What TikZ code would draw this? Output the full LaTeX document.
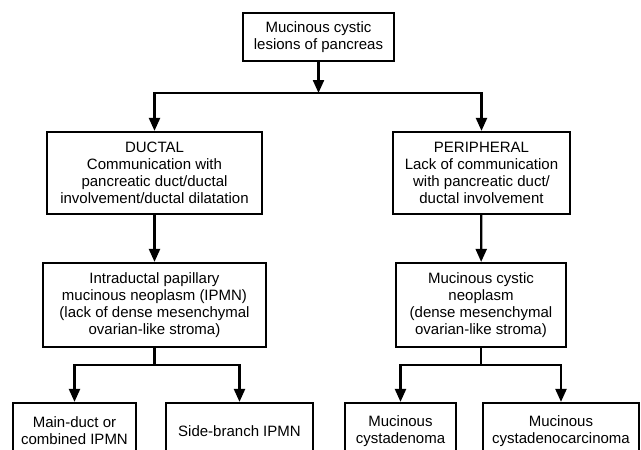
\documentclass[tikz,border=0pt]{standalone}
\usepackage{fontspec}
\setmainfont{Liberation Sans}
\usepackage{tikz}
\usetikzlibrary{positioning, arrows.meta, calc}
\tikzset{
  caja/.style={rectangle, draw=black, line width=2.2pt, align=center, text centered, inner sep=2pt, font=\fontsize{15}{17}\selectfont},
  flecha/.style={line width=2.2pt, -{Triangle[length=13pt, width=11pt]}},
  linea/.style={line width=2.2pt}
}

\begin{document}
\begin{tikzpicture}[x=1pt, y=-1pt]

    % Marco de la imagen (las cajas inferiores quedan cortadas)
    \useasboundingbox (0,0) rectangle (641,450);
    \clip (0,0) rectangle (641,450);

    % 1. Caja superior
    \node[caja, minimum width=151pt, minimum height=48pt] (lesiones) at (318.5, 37) {Mucinous cystic\\lesions of pancreas};

    % 2. Nivel ductal / periferico
    \node[caja, minimum width=215pt, minimum height=82pt] (ductal) at (154.5, 173) {DUCTAL\\Communication with\\pancreatic duct/ductal\\involvement/ductal dilatation};
    \node[caja, minimum width=177pt, minimum height=82pt] (periferico) at (481.5, 173) {PERIPHERAL\\Lack of communication\\with pancreatic duct/\\ductal involvement};

    % 3. Neoplasias
    \node[caja, minimum width=223pt, minimum height=84pt] (ipmn) at (154.5, 305) {Intraductal papillary\\mucinous neoplasm (IPMN)\\(lack of dense mesenchymal\\ovarian-like stroma)};
    \node[caja, minimum width=170pt, minimum height=84pt] (mcn) at (481, 305) {Mucinous cystic\\neoplasm\\(dense mesenchymal\\ovarian-like stroma)};

    % 4. Subtipos (fila inferior)
    \node[caja, minimum width=123pt, minimum height=56pt] (principal) at (74.5, 431) {Main-duct or\\combined IPMN};
    \node[caja, minimum width=147pt, minimum height=56pt] (lateral) at (239.5, 431) {Side-branch IPMN};
    \node[caja, minimum width=111pt, minimum height=56pt] (adenoma) at (400.5, 431) {Mucinous\\cystadenoma};
    \node[caja, minimum width=156pt, minimum height=56pt] (carcinoma) at (561, 431) {Mucinous\\cystadenocarcinoma};

    % -------------------------------------------------------------
    % CONEXIONES
    % -------------------------------------------------------------
    \coordinate (rama1) at (318.5, 93);
    \coordinate (rama2) at (154.5, 365);
    \coordinate (rama3) at (481, 365);

    \draw[flecha] (lesiones) -- (rama1);
    \draw[flecha] (rama1) -| (ductal);
    \draw[flecha] (rama1) -| (periferico);

    \draw[flecha] (ductal) -- (ipmn);
    \draw[flecha] (periferico) -- (mcn);

    % Rama IPMN
    \draw[linea] (ipmn) -- (rama2);
    \draw[flecha] (rama2) -| (principal);
    \draw[flecha] (rama2) -| (lateral);

    % Rama MCN
    \draw[linea] (mcn) -- (rama3);
    \draw[flecha] (rama3) -| (adenoma);
    \draw[flecha] (rama3) -| (carcinoma);

\end{tikzpicture}
\end{document}
